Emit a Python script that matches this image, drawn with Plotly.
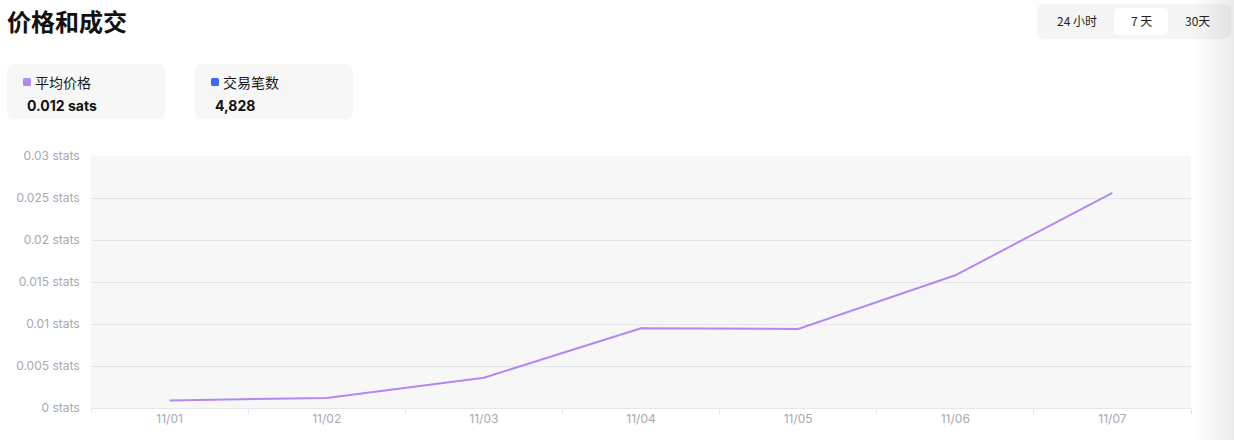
import plotly.graph_objects as go

dates = ["11/01", "11/02", "11/03", "11/04", "11/05", "11/06", "11/07"]
avg_price = [0.0009, 0.0012, 0.0036, 0.0095, 0.0094, 0.0158, 0.0256]
y_ticks = [0, 0.005, 0.01, 0.015, 0.02, 0.025, 0.03]
y_tick_labels = ["0 stats", "0.005 stats", "0.01 stats", "0.015 stats", "0.02 stats", "0.025 stats", "0.03 stats"]

W, H = 1234, 440
L, R, T, B = 91, 1191, 156, 408

def px(x):
    return (x - L) / (R - L)

def py(y):
    return (B - y) / (B - T)

def rrect(x0, y0, x1, y1, r, fill, layer="below"):
    rx = r / (R - L)
    ry = r / (B - T)
    X0, X1 = px(x0), px(x1)
    Y0, Y1 = py(y1), py(y0)  # bottom, top in paper
    path = (f"M{X0+rx},{Y0} L{X1-rx},{Y0} Q{X1},{Y0} {X1},{Y0+ry} "
            f"L{X1},{Y1-ry} Q{X1},{Y1} {X1-rx},{Y1} L{X0+rx},{Y1} "
            f"Q{X0},{Y1} {X0},{Y1-ry} L{X0},{Y0+ry} Q{X0},{Y0} {X0+rx},{Y0} Z")
    return dict(type="path", xref="paper", yref="paper", path=path,
                fillcolor=fill, line=dict(width=0), layer=layer)

fig = go.Figure()
fig.add_trace(go.Scatter(x=dates, y=avg_price, mode="lines",
                         line=dict(color="#b388f0", width=2),
                         hoverinfo="skip", showlegend=False))

shapes = []
shapes.append(rrect(7, 64, 165, 119, 8, "#f7f7f8"))
shapes.append(rrect(195, 64, 353, 119, 8, "#f7f7f8"))
shapes.append(rrect(1037, 4, 1231, 39, 8, "#f5f5f5"))
shapes.append(rrect(1114, 8, 1168, 35, 5, "#ffffff"))
shapes.append(rrect(23, 78, 31, 86, 1.5, "#b388f0", "above"))
shapes.append(rrect(211, 78, 219, 86, 1.5, "#4463ee", "above"))

# right-side shadow gradient
n = 20
for i in range(n):
    x0 = 1195 + i * 2
    shapes.append(dict(type="rect", xref="paper", yref="paper",
                       x0=px(x0), x1=px(W + 2), y0=py(H + 2), y1=py(-2),
                       fillcolor="rgba(150,150,150,0.011)", line=dict(width=0), layer="above"))

ann = []
def text(x, y, s, size, color="#111111", bold=False, anchor="left", family="Noto Sans CJK SC, Inter"):
    ann.append(dict(x=px(x), y=py(y), xref="paper", yref="paper", text=f"<b>{s}</b>" if bold else s,
                    showarrow=False, xanchor=anchor, yanchor="middle",
                    font=dict(size=size, color=color, family=family)))

text(5, 21, "价格和成交", 24, "#111111", bold=True)
text(33, 82, "平均价格", 14, "#1a1a1a")
text(25, 105, "0.012 sats", 14, "#111111", bold=True, family="Inter, Noto Sans CJK SC")
text(221, 82, "交易笔数", 14, "#1a1a1a")
text(213, 105, "4,828", 14, "#111111", bold=True, family="Inter, Noto Sans CJK SC")
text(1077, 21, "24 小时", 12, "#222222", anchor="center")
text(1141, 21, "7 天", 12, "#222222", anchor="center")
text(1197, 21, "30天", 12, "#222222", anchor="center")

fig.update_layout(
    width=W, height=H,
    margin=dict(l=L, r=W - R, t=T, b=H - B, pad=0),
    paper_bgcolor="#ffffff",
    plot_bgcolor="#f7f7f8",
    shapes=shapes,
    annotations=ann,
    xaxis=dict(type="category", range=[-0.5, 6.5], tickson="boundaries", ticks="outside", ticklen=5,
               tickcolor="#e6e6ee", showline=True, linecolor="#e6e6ee", linewidth=1,
               showgrid=False, tickfont=dict(size=12, color="#a8a8b2", family="Inter"),
               fixedrange=True),
    yaxis=dict(range=[0, 0.03], tickvals=y_ticks, ticktext=y_tick_labels,
               showgrid=True, gridcolor="#e4e4ee", gridwidth=1, zeroline=False,
               ticks="outside", ticklen=8, tickcolor="rgba(0,0,0,0)",
               tickfont=dict(size=12, color="#a8a8b2", family="Inter"),
               fixedrange=True),
)

fig.write_html("out.html", config={"displayModeBar": False},
               post_script="document.body.style.margin='0';document.body.style.overflow='hidden';")
